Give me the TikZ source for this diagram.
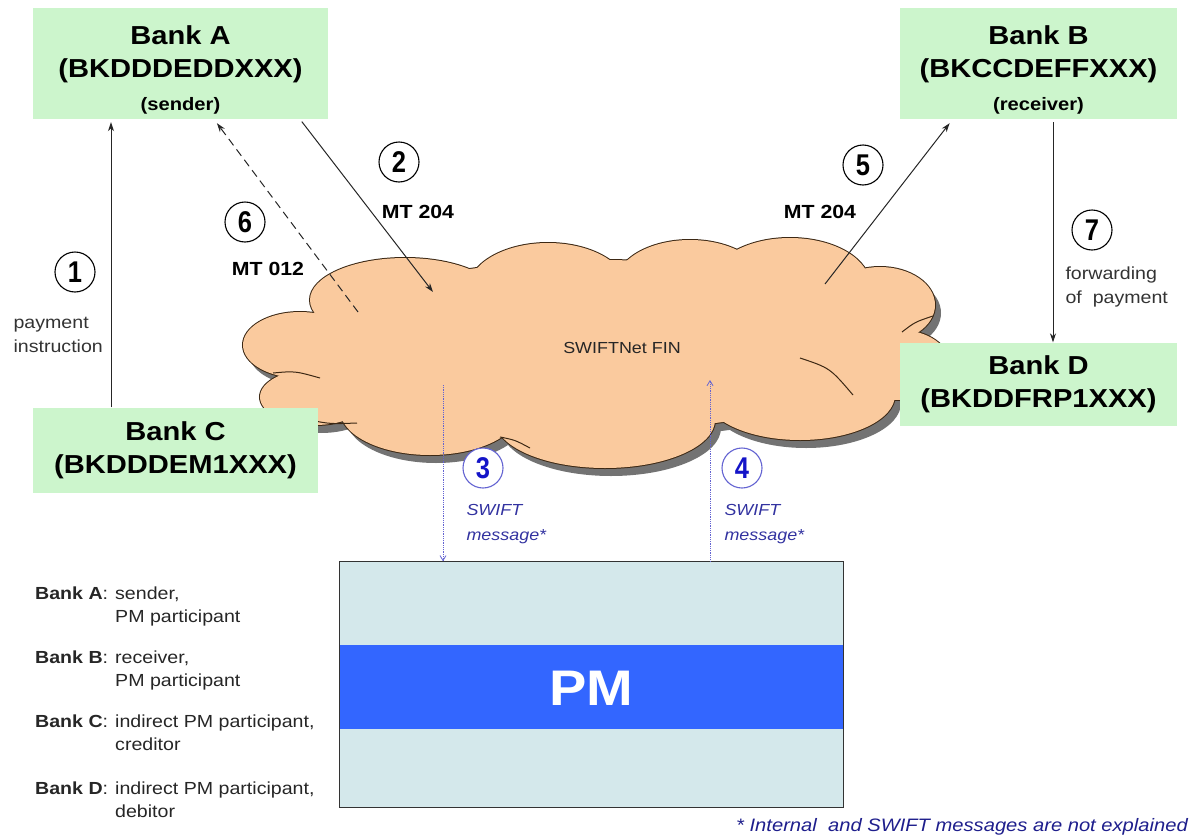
\documentclass[tikz,border=0pt]{standalone}
\usepackage{fontspec}
\setmainfont{Liberation Sans}[FakeStretch=1.12]
\newfontfamily\stepFamily{Liberation Sans}[FakeStretch=0.85]
\usetikzlibrary{arrows.meta}

\definecolor{bankGreen}{RGB}{204,245,204}
\definecolor{cloudPeach}{RGB}{250,202,158}
\definecolor{cloudEdge}{RGB}{60,40,20}
\definecolor{pmLight}{RGB}{212,232,235}
\definecolor{pmBlue}{RGB}{51,102,255}
\definecolor{stepBlue}{RGB}{20,20,200}
\definecolor{swiftBlue}{RGB}{50,50,160}
\definecolor{dotBlue}{RGB}{100,100,210}
\definecolor{noteBlue}{RGB}{30,30,140}

\newcommand\bankFont{\fontsize{26}{33}\selectfont\bfseries}
\newcommand\roleFont{\fontsize{18}{22}\selectfont}

\begin{document}
\begin{tikzpicture}[x=1pt, y=-1pt]
        \tikzset{
            bankBox/.style={fill=bankGreen, inner sep=0pt, align=center, font=\bankFont},
            stepCircle/.style={circle, draw=black, line width=1.1pt, fill=white,
                minimum size=40pt, inner sep=0pt, font=\stepFamily\fontsize{30}{30}\selectfont\bfseries},
            stepCircleBlue/.style={stepCircle, draw=dotBlue, text=stepBlue},
            msgLabel/.style={font=\fontsize{19}{22}\selectfont\bfseries},
            sideNote/.style={align=left, text=black!80, font=\fontsize{17.5}{24}\selectfont},
            swiftNote/.style={align=left, text=swiftBlue, font=\fontsize{16}{25}\selectfont\itshape},
            legendText/.style={inner sep=0pt, text=black!85, font=\fontsize{17.5}{23}\selectfont},
            flow/.style={draw=black!85, line width=1pt, -{Stealth[length=9pt, width=6pt]}},
            flowDashed/.style={flow, dash pattern=on 8pt off 5pt},
            swiftFlow/.style={draw=dotBlue, line width=0.8pt, densely dotted,
                -{Straight Barb[length=5pt, width=6pt]}},
            cloudFold/.style={draw=cloudEdge, line width=1pt}
        }
        \useasboundingbox (0,0) rectangle (1197,838);

        % SWIFTNet cloud: union of puffs (shadow, outline, fill)
        \def\puffList{300/345/57/33, 315/397/55/28, 405/300/95/42, 548/290/80/47,
            690/285/75/45, 790/285/80/47, 880/305/55/38, 900/365/50/35,
            800/395/95/45, 605/420/110/48, 430/410/90/45, 600/345/290/85}
        \foreach \cx/\cy/\rx/\ry in \puffList
            \fill[black!55] (\cx+6,\cy+8) ellipse [x radius=\rx, y radius=\ry];
        \foreach \cx/\cy/\rx/\ry in \puffList
            \draw[cloudEdge, line width=2pt] (\cx,\cy) ellipse [x radius=\rx, y radius=\ry];
        \foreach \cx/\cy/\rx/\ry in \puffList
            \fill[cloudPeach] (\cx,\cy) ellipse [x radius=\rx, y radius=\ry];
        \draw[cloudFold] (273,373) .. controls (295,371) .. (320,378);
        \draw[cloudFold] (310,420) .. controls (330,424) .. (357,423);
        \draw[cloudFold] (500,437) .. controls (515,440) .. (530,448);
        \draw[cloudFold] (800,358) .. controls (830,368) .. (853,395);
        \draw[cloudFold] (902,332) .. controls (915,322) .. (933,316);
        \node[font=\fontsize{16}{20}\selectfont, text=black!85] (finText) at (622,348) {SWIFTNet FIN};

        % banks
        \node[bankBox, minimum width=295pt, minimum height=111pt] (bankA) at (180.5,63.5)
            {\rule{0pt}{32pt}Bank A\\(BKDDDEDDXXX)\\{\roleFont (sender)}};
        \node[bankBox, minimum width=277pt, minimum height=111pt] (bankB) at (1038.5,63.5)
            {\rule{0pt}{32pt}Bank B\\(BKCCDEFFXXX)\\{\roleFont (receiver)}};
        \node[bankBox, minimum width=285pt, minimum height=85pt] (bankC) at (175.5,450)
            {Bank C\\(BKDDDEM1XXX)};
        \node[bankBox, minimum width=277pt, minimum height=83pt] (bankD) at (1038.5,384)
            {Bank D\\(BKDDFRP1XXX)};

        % PM
        \node[fill=pmLight, minimum width=503pt, minimum height=246pt, inner sep=0pt] (pm) at (591.5,684.5) {};
        \fill[pmBlue] (pm.west |- 0,645) rectangle (pm.east |- 0,729);
        \draw[line width=1.1pt, black!80] (pm.north west) rectangle (pm.south east);
        \node[text=white, font=\fontsize{50}{50}\selectfont\bfseries] (pmText) at (591,688) {PM};

        % messages
        \coordinate (railOne) at (111,0);
        \coordinate (railSeven) at (1053,0);
        \coordinate (inTwo) at (433,292);
        \coordinate (outSix) at (358,312);
        \coordinate (outFive) at (825,284);
        \coordinate (outThree) at (443,385);
        \coordinate (inFour) at (710,380);

        \draw[flow, shorten >=3pt] (bankC.north -| railOne) -- (bankA.south -| railOne);
        \draw[flow, shorten <=3pt] (bankA.-25) -- (inTwo);
        \draw[flowDashed, shorten >=5pt] (outSix) -- (bankA.-59);
        \draw[flow, shorten >=5pt] (outFive) -- (bankB.-147);
        \draw[flow, shorten <=3pt] (bankB.south -| railSeven) -- (bankD.north -| railSeven);
        \draw[swiftFlow] (outThree) -- (pm.north -| outThree);
        \draw[swiftFlow] (pm.north -| inFour) -- (inFour);

        \node[stepCircle] (stepOne) at (75,272) {1};
        \node[stepCircle] (stepTwo) at (399,162) {2};
        \node[stepCircleBlue] (stepThree) at (483,468) {3};
        \node[stepCircleBlue] (stepFour) at (742,468) {4};
        \node[stepCircle] (stepFive) at (863,165) {5};
        \node[stepCircle] (stepSix) at (245,222) {6};
        \node[stepCircle] (stepSeven) at (1092,230) {7};

        \node[msgLabel] (mtTwo) at (418,212) {MT 204};
        \node[msgLabel] (mtSix) at (268,269) {MT 012};
        \node[msgLabel] (mtFive) at (820,212) {MT 204};

        \node[sideNote, anchor=west] (noteOne) at (10,335) {payment\\instruction};
        \node[sideNote, anchor=west] (noteSeven) at (1062,287) {forwarding\\of~ payment};
        \node[swiftNote, anchor=west] (noteThree) at (463,524) {SWIFT\\message*};
        \node[swiftNote, anchor=west] (noteFour) at (721,524) {SWIFT\\message*};

        % legend
        \node[legendText, anchor=base west] (legendA) at (35,599)
            {\begin{tabular}[t]{@{}p{80pt}@{}l@{}}\textbf{Bank A}: & sender,\\ & PM participant\end{tabular}};
        \node[legendText, anchor=base west] (legendB) at (35,663)
            {\begin{tabular}[t]{@{}p{80pt}@{}l@{}}\textbf{Bank B}: & receiver,\\ & PM participant\end{tabular}};
        \node[legendText, anchor=base west] (legendC) at (35,727)
            {\begin{tabular}[t]{@{}p{80pt}@{}l@{}}\textbf{Bank C}: & indirect PM participant,\\ & creditor\end{tabular}};
        \node[legendText, anchor=base west] (legendD) at (35,794)
            {\begin{tabular}[t]{@{}p{80pt}@{}l@{}}\textbf{Bank D}: & indirect PM participant,\\ & debitor\end{tabular}};

        \node[anchor=base east, inner sep=0pt, text=noteBlue, font=\fontsize{18}{20}\selectfont\itshape]
            (footNote) at (1188,831) {* Internal~ and SWIFT messages are not explained};
    \end{tikzpicture}
\end{document}
